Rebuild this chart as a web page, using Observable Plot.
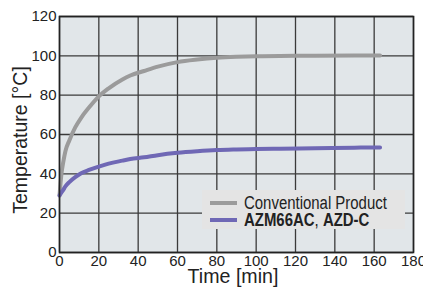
<!DOCTYPE html>
<html>
<head>
<meta charset="utf-8">
<script src="https://cdn.jsdelivr.net/npm/d3@7"></script>
<script src="https://cdn.jsdelivr.net/npm/@observablehq/plot@0.6"></script>
<style>
  html, body { margin: 0; padding: 0; background: #fff; }
  #wrap { position: relative; width: 423px; height: 291px; overflow: hidden; font-family: "Liberation Sans", Arial, sans-serif; color: #222; }
  #wrap svg { position: absolute; left: 0; top: 0; }
  #legend {
    position: absolute; left: 202px; top: 190px; width: 203px; height: 39px;
    background: #e4e4e4; font-size: 18px;
  }
  .row { position: absolute; left: 0; height: 18px; line-height: 18px; white-space: nowrap; width: 200px; }
  .sw { position: absolute; left: 8px; top: 7px; width: 27px; height: 4px; }
  .lab { position: absolute; left: 42px; top: 0; transform: scaleX(0.83); transform-origin: 0 50%; }
  .xt { position: absolute; left: 233px; top: 265px; font-size: 20px; line-height: 22px; white-space: nowrap; transform: translateX(-50%) scaleX(0.98); }
  .yt { position: absolute; left: 20px; top: 140px; font-size: 19.5px; line-height: 22px; white-space: nowrap; transform: translate(-50%, -50%) rotate(-90deg); }
</style>
</head>
<body>
<div id="wrap"></div>
<script>
const seriesNames = ["Conventional Product", "AZM66AC, AZD-C"];
const seriesColors = ["#9b9b9b", "#6f68b5"];
const time = [0, 1, 2, 3, 5, 8, 11, 15, 20, 25, 32, 36, 43, 50, 60, 70, 80, 90, 100, 112, 130, 150, 163];
const conventional = [29, 40, 46.5, 51.5, 57, 63.6, 68.5, 73.7, 79.4, 83.5, 88, 90, 92.3, 94.5, 96.8, 98.1, 99, 99.5, 99.8, 99.9, 100.1, 100.2, 100.2];
const azm = [29, 30.6, 32, 33.6, 35.8, 38.3, 40.3, 42, 43.7, 45.2, 46.7, 47.5, 48.4, 49.5, 50.7, 51.5, 52.1, 52.4, 52.6, 52.8, 53, 53.3, 53.4];
const xTicks = [0, 20, 40, 60, 80, 100, 120, 140, 160, 180];
const yTicks = [0, 20, 40, 60, 80, 100, 120];
const xTitle = "Time [min]";
const yTitle = "Temperature [°C]";

const rows = [];
time.forEach((t, i) => {
  rows.push({t, v: conventional[i], s: seriesNames[0]});
  rows.push({t, v: azm[i], s: seriesNames[1]});
});

const chart = Plot.plot({
  width: 423,
  height: 291,
  marginLeft: 59,
  marginRight: 10,
  marginTop: 16,
  marginBottom: 39,
  style: {fontFamily: "'Liberation Sans', Arial, sans-serif", fontSize: "15px", color: "#222", background: "white", overflow: "visible"},
  x: {domain: [0, 180], ticks: xTicks},
  y: {domain: [0, 120], ticks: yTicks},
  color: {domain: seriesNames, range: seriesColors},
  marks: [
    Plot.frame({fill: "#e1e6e9"}),
    Plot.gridX(xTicks, {stroke: "#3a3a3a", strokeOpacity: 1, strokeWidth: 1.3}),
    Plot.gridY(yTicks, {stroke: "#3a3a3a", strokeOpacity: 1, strokeWidth: 1.3}),
    Plot.line(rows, {x: "t", y: "v", z: "s", stroke: "s", strokeWidth: 4, curve: "monotone-x"}),
    Plot.frame({stroke: "#222", strokeWidth: 1.6}),
    Plot.axisX(xTicks, {tickSize: 0, tickPadding: 3, label: null, fontSize: 15}),
    Plot.axisY(yTicks, {tickSize: 0, tickPadding: 3, label: null, fontSize: 15})
  ]
});
const wrap = document.getElementById("wrap");
wrap.appendChild(chart);

const xt = document.createElement("div");
xt.className = "xt";
xt.textContent = xTitle;
wrap.appendChild(xt);

const yt = document.createElement("div");
yt.className = "yt";
yt.textContent = yTitle;
wrap.appendChild(yt);

const legend = document.createElement("div");
legend.id = "legend";
legend.innerHTML = `
  <div class="row" style="top:4px"><div class="sw" style="background:${seriesColors[0]}"></div><div class="lab">${seriesNames[0]}</div></div>
  <div class="row" style="top:21px"><div class="sw" style="background:${seriesColors[1]}"></div><div class="lab"><b>AZM66AC</b>, <b>AZD-C</b></div></div>`;
wrap.appendChild(legend);
</script>
</body>
</html>
